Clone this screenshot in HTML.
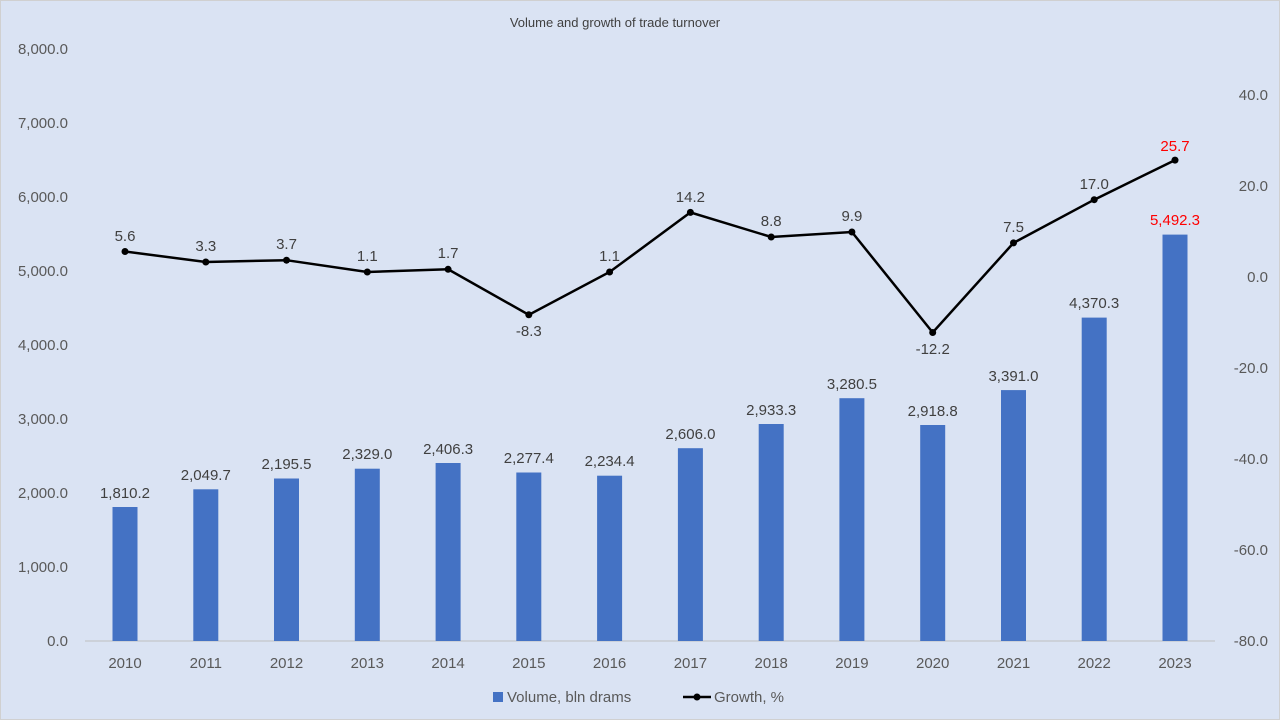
<!DOCTYPE html><html><head><meta charset="utf-8"><style>body{margin:0;background:#dae3f3}svg{display:block;font-family:"Liberation Sans",sans-serif}</style></head><body>
<svg width="1280" height="720" xmlns="http://www.w3.org/2000/svg">
<rect x="0.5" y="0.5" width="1279" height="719" fill="#dae3f3" stroke="#d0d0d0"/>
<text x="615" y="27" text-anchor="middle" font-size="13" fill="#404040">Volume and growth of trade turnover</text>
<g font-size="15" fill="#595959" text-anchor="end">
<text x="68" y="646">0.0</text><text x="68" y="572">1,000.0</text><text x="68" y="498">2,000.0</text><text x="68" y="424">3,000.0</text><text x="68" y="350">4,000.0</text><text x="68" y="276">5,000.0</text><text x="68" y="202">6,000.0</text><text x="68" y="128">7,000.0</text><text x="68" y="54">8,000.0</text>
</g>
<g font-size="15" fill="#595959" text-anchor="end">
<text x="1268" y="100">40.0</text><text x="1268" y="191">20.0</text><text x="1268" y="282">0.0</text><text x="1268" y="373">-20.0</text><text x="1268" y="464">-40.0</text><text x="1268" y="555">-60.0</text><text x="1268" y="646">-80.0</text>
</g>
<line x1="85" y1="641" x2="1215" y2="641" stroke="#bfbfbf"/>
<g fill="#4472c4">
<rect x="112.5" y="507" width="25" height="134"/>
<rect x="193.3" y="489.3" width="25" height="151.7"/>
<rect x="274" y="478.5" width="25" height="162.5"/>
<rect x="354.8" y="468.7" width="25" height="172.3"/>
<rect x="435.6" y="463" width="25" height="178"/>
<rect x="516.3" y="472.5" width="25" height="168.5"/>
<rect x="597.1" y="475.7" width="25" height="165.3"/>
<rect x="677.9" y="448.2" width="25" height="192.8"/>
<rect x="758.7" y="424" width="25" height="217"/>
<rect x="839.4" y="398.2" width="25" height="242.8"/>
<rect x="920.2" y="425" width="25" height="216"/>
<rect x="1001" y="390.1" width="25" height="250.9"/>
<rect x="1081.7" y="317.6" width="25" height="323.4"/>
<rect x="1162.5" y="234.6" width="25" height="406.4"/>
</g>
<g font-size="15" fill="#404040" text-anchor="middle">
<text x="125" y="498">1,810.2</text><text x="205.8" y="480">2,049.7</text><text x="286.5" y="469">2,195.5</text><text x="367.3" y="459">2,329.0</text><text x="448.1" y="454">2,406.3</text><text x="528.8" y="463">2,277.4</text><text x="609.6" y="466">2,234.4</text><text x="690.4" y="439">2,606.0</text><text x="771.2" y="415">2,933.3</text><text x="851.9" y="389">3,280.5</text><text x="932.7" y="416">2,918.8</text><text x="1013.5" y="381">3,391.0</text><text x="1094.2" y="308">4,370.3</text><text x="1175" y="225" fill="#ff0000">5,492.3</text>
</g>
<polyline fill="none" stroke="#000" stroke-width="2.5" points="125,251.5 205.8,262 286.5,260.2 367.3,272 448.1,269.3 528.8,314.8 609.6,272 690.4,212.4 771.2,237 851.9,232 932.7,332.5 1013.5,242.9 1094.2,199.7 1175,160.1"/>
<g fill="#000">
<circle cx="125" cy="251.5" r="3.5"/><circle cx="205.8" cy="262" r="3.5"/><circle cx="286.5" cy="260.2" r="3.5"/><circle cx="367.3" cy="272" r="3.5"/><circle cx="448.1" cy="269.3" r="3.5"/><circle cx="528.8" cy="314.8" r="3.5"/><circle cx="609.6" cy="272" r="3.5"/><circle cx="690.4" cy="212.4" r="3.5"/><circle cx="771.2" cy="237" r="3.5"/><circle cx="851.9" cy="232" r="3.5"/><circle cx="932.7" cy="332.5" r="3.5"/><circle cx="1013.5" cy="242.9" r="3.5"/><circle cx="1094.2" cy="199.7" r="3.5"/><circle cx="1175" cy="160.1" r="3.5"/>
</g>
<g font-size="15" fill="#404040" text-anchor="middle">
<text x="125" y="241">5.6</text><text x="205.8" y="251">3.3</text><text x="286.5" y="249">3.7</text><text x="367.3" y="261">1.1</text><text x="448.1" y="258">1.7</text><text x="528.8" y="336">-8.3</text><text x="609.6" y="261">1.1</text><text x="690.4" y="202">14.2</text><text x="771.2" y="226">8.8</text><text x="851.9" y="221">9.9</text><text x="932.7" y="354">-12.2</text><text x="1013.5" y="232">7.5</text><text x="1094.2" y="189">17.0</text><text x="1175" y="151" fill="#ff0000">25.7</text>
</g>
<g font-size="15" fill="#595959" text-anchor="middle">
<text x="125" y="668">2010</text><text x="205.8" y="668">2011</text><text x="286.5" y="668">2012</text><text x="367.3" y="668">2013</text><text x="448.1" y="668">2014</text><text x="528.8" y="668">2015</text><text x="609.6" y="668">2016</text><text x="690.4" y="668">2017</text><text x="771.2" y="668">2018</text><text x="851.9" y="668">2019</text><text x="932.7" y="668">2020</text><text x="1013.5" y="668">2021</text><text x="1094.2" y="668">2022</text><text x="1175" y="668">2023</text>
</g>
<rect x="493" y="692" width="10" height="10" fill="#4472c4"/>
<text x="507" y="702" font-size="15" fill="#595959">Volume, bln drams</text>
<line x1="683" y1="697" x2="711" y2="697" stroke="#000" stroke-width="2.5"/>
<circle cx="697" cy="697" r="3.5"/>
<text x="714" y="702" font-size="15" fill="#595959">Growth, %</text>
</svg></body></html>
